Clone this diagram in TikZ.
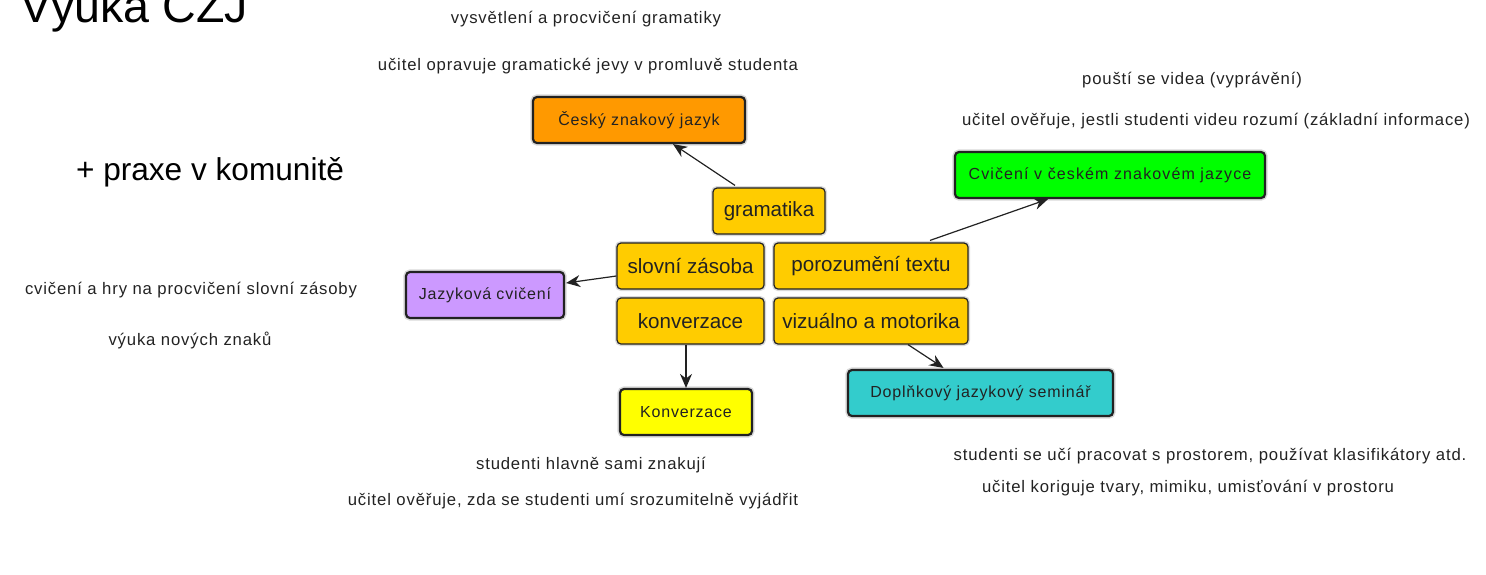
\documentclass[tikz,border=0pt]{standalone}
\usepackage{fontspec}
\setmainfont{Liberation Sans}
\newfontfamily\lblfont[LetterSpace=5]{Liberation Sans}
\usetikzlibrary{calc,arrows.meta}
\definecolor{orng}{HTML}{FF9900}
\definecolor{gold}{HTML}{FFCC00}
\definecolor{purp}{HTML}{CC99FF}
\definecolor{yelw}{HTML}{FFFF00}
\definecolor{teal2}{HTML}{33CCCC}
\definecolor{grn}{HTML}{00FF00}
\definecolor{ink}{HTML}{222222}
\begin{document}
\begin{tikzpicture}[x=0.5pt,y=-0.5pt,
  lbl/.style={inner sep=0pt,text=ink,font=\lblfont\fontsize{8.35pt}{10pt}\selectfont},
  topic/.style={draw=ink,line width=0.6pt,fill=gold,rounded corners=2pt,inner sep=0pt,
    minimum height=23pt,text=ink,font=\fontsize{10.3pt}{12pt}\selectfont,
    preaction={draw=black!15,line width=2pt}},
  goal/.style={draw=ink,line width=1.1pt,rounded corners=2pt,inner sep=0pt,
    minimum height=23pt,text=ink,font=\lblfont\fontsize{8pt}{10pt}\selectfont,
    preaction={draw=black!15,line width=2.6pt}},
  link/.style={draw=ink,line width=0.6pt,-{Stealth[length=7pt,width=6pt]}}
]
\useasboundingbox (0,0) rectangle (1486,574);

% title and free texts
\node[anchor=base west,inner sep=0pt,font=\fontsize{23.3pt}{26pt}\selectfont] (title) at (20,22) {Výuka ČZJ};
\node[inner sep=0pt,font=\fontsize{15.8pt}{18pt}\selectfont] (praxe) at (210,172) {+ praxe v komunitě};

\node[lbl] (t1) at (586,19) {vysvětlení a procvičení gramatiky};
\node[lbl] (t2) at (588,66) {učitel opravuje gramatické jevy v promluvě studenta};
\node[lbl] (t3) at (1192,80) {pouští se videa (vyprávění)};
\node[lbl] (t4) at (1216,121) {učitel ověřuje, jestli studenti videu rozumí (základní informace)};
\node[lbl] (t5) at (191,290) {cvičení a hry na procvičení slovní zásoby};
\node[lbl] (t6) at (190,340) {výuka nových znaků};
\node[lbl] (t7) at (591,465) {studenti hlavně sami znakují};
\node[lbl] (t8) at (573,501) {učitel ověřuje, zda se studenti umí srozumitelně vyjádřit};
\node[lbl] (t9) at (1210,456) {studenti se učí pracovat s prostorem, používat klasifikátory atd.};
\node[lbl] (t10) at (1188,488) {učitel koriguje tvary, mimiku, umisťování v prostoru};

% topic boxes
\node[topic,minimum width=56pt] (gram) at (769,211) {gramatika};
\node[topic,minimum width=73.5pt] (slov) at (690.5,266) {slovní zásoba};
\node[topic,minimum width=97pt] (poroz) at (871,266) {porozumění textu};
\node[topic,minimum width=73.5pt] (konv) at (690.5,321) {konverzace};
\node[topic,minimum width=97pt] (viz) at (871,321) {vizuálno a motorika};

% goal boxes
\node[goal,fill=orng,minimum width=106pt] (cesky) at (639,120) {Český znakový jazyk};
\node[goal,fill=purp,minimum width=79pt] (jaz) at (485,295) {Jazyková cvičení};
\node[goal,fill=yelw,minimum width=66pt] (Konv) at (686,412) {Konverzace};
\node[goal,fill=teal2,minimum width=132.5pt] (dopl) at (980.5,393) {Doplňkový jazykový seminář};
\node[goal,fill=grn,minimum width=155pt] (cvic) at (1110,175) {\addfontfeature{LetterSpace=7}Cvičení v českém znakovém jazyce};

% connectors
\draw[link] ($(gram.north)+(-34,-2)$) -- ($(cesky.south)+(34,0)$);
\draw[link] ($(slov.west)+(0,10)$) -- ($(jaz.east)+(1,-12)$);
\draw[link] ($(poroz.north)+(59,-2)$) -- ($(cvic.south)+(-62,0)$);
\draw[link] (Konv.north |- konv.south) -- (Konv.north);
\draw[link] ($(viz.south)+(37,0)$) -- ($(dopl.north)+(-37,-1)$);
\end{tikzpicture}
\end{document}
